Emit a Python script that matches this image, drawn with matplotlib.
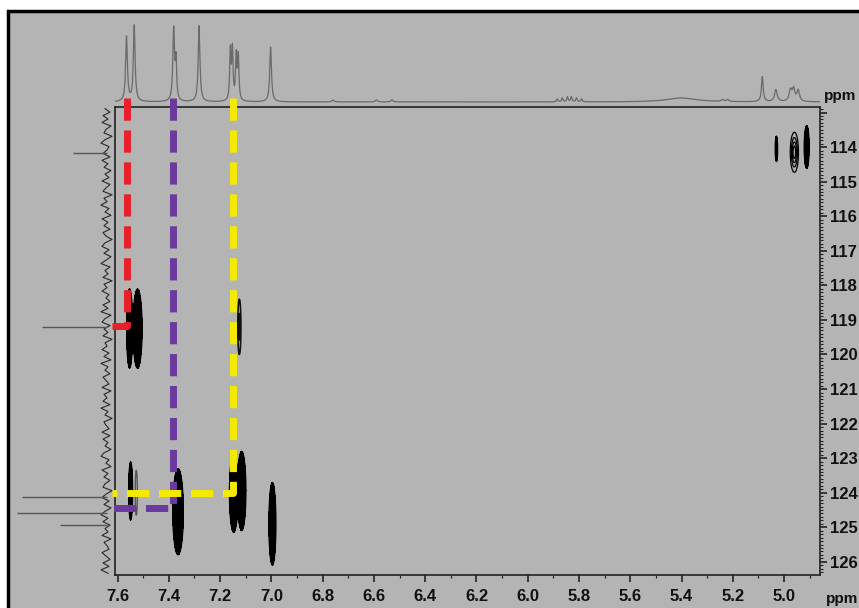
import numpy as np
import matplotlib.pyplot as plt
from matplotlib.patches import Rectangle
from matplotlib.ticker import MultipleLocator, FixedLocator, FuncFormatter

# 1H projection (top): ppm, height (px above baseline), half width (ppm)
h_ppm = [7.565, 7.535, 7.381, 7.372, 7.282, 7.160, 7.152, 7.137, 7.129, 7.003,
         6.76, 6.59, 6.53, 5.885, 5.865, 5.845, 5.83, 5.81, 5.79,
         5.40, 5.24, 5.22, 5.085, 5.032, 4.975, 4.963, 4.945]
h_int = [65, 76, 72, 38, 76, 50, 50, 44, 44, 55,
         2, 2, 2, 3, 4, 5, 5, 4, 3,
         4, 2, 2, 25, 12, 11, 12, 11]
h_wid = [0.004, 0.004, 0.004, 0.003, 0.004, 0.003, 0.003, 0.003, 0.003, 0.004,
         0.005, 0.005, 0.005, 0.003, 0.003, 0.003, 0.003, 0.003, 0.003,
         0.07, 0.005, 0.005, 0.004, 0.006, 0.006, 0.006, 0.006]

# 13C projection (left): ppm, length of spike (px), baseline noise (px)
c_ppm = [114.17, 119.2, 124.12, 124.6, 124.92]
c_int = [34, 65, 85, 90, 47]
c_noise = [2, -3, 4, -1, 5, -4, 1, 3, -5, 2, 6, -2, 0, 4, -3, 5, -1, 3, -4, 2,
           -2, 5, -3, 1, 4, -5, 3, 0, 6, -2, 2, -4, 5, -1, 3, -3, 4, 1, -5, 2,
           5, -2, 3, -4, 1, 6, -3, 2, -1, 4, -5, 3, 0, 5, -2, 1, -3, 4, -1, 6,
           -4, 2, 5, -3, 3, -1, 4, -5, 2, 0, 5, -2, 3, -4, 6, -1, 2, -3, 4, 1,
           -2, 5, -4, 3, 0, 4, -3, 6, -1, 2, -5, 3, 1, -2, 5, -3, 4, -1, 2, -4,
           3, 6, -2, 1, -4, 5, -1, 3, -3, 2, 4, -5, 1, 5, -2, 3, -4, 2, 6, -1,
           4, -3, 2, -1, 5, -4, 3, 0, -2, 5, 1, -3, 4, -2, 6, -1]

# cross peaks: 1H ppm, 13C ppm, half extent in 1H, half extent in 13C, style
pk_h = [7.553, 7.522, 7.125, 7.549, 7.527, 7.364, 7.147, 7.116, 6.996, 5.030, 4.960, 4.912]
pk_c = [119.25, 119.25, 119.2, 123.95, 124.0, 124.55, 124.0, 123.95, 124.9, 114.05, 114.15, 114.0]
pk_dh = [0.012, 0.018, 0.006, 0.008, 0.004, 0.021, 0.017, 0.017, 0.014, 0.005, 0.016, 0.010]
pk_dc = [1.15, 1.15, 0.8, 0.85, 0.65, 1.25, 1.15, 1.15, 1.2, 0.37, 0.58, 0.62]
pk_kind = ['solid', 'solid', 'line', 'solid', 'gray', 'solid', 'solid', 'solid',
           'solid', 'solid', 'ring', 'solid']

# correlation guides: 1H ppm, 13C ppm, colour
guide_h = [7.565, 7.385, 7.15]
guide_c = [119.17, 124.43, 124.0]
guide_col = ['#e8202a', '#6b3a9e', '#f4ea00']

W, H = 859, 608
XL = (7.61, 4.86)
YL = (126.38, 112.84)
bg = '#b4b4b4'

plt.rcParams['font.family'] = ['Liberation Sans Narrow', 'Liberation Sans', 'DejaVu Sans']
plt.rcParams['font.weight'] = 'bold'

fig = plt.figure(figsize=(W / 100, H / 100), dpi=100, facecolor='white')
fig.patches.append(Rectangle((8 / W, -0.05), 1.1, 1 - 11 / H + 0.05, transform=fig.transFigure,
                             facecolor=bg, edgecolor='black', lw=2.5, zorder=-10))

ax = fig.add_axes([115 / W, 1 - 575 / H, 705 / W, 468 / H])
ax.set_facecolor('none')
ax.set_xlim(*XL)
ax.set_ylim(*YL)

# 2D contours
gx = np.linspace(XL[1], XL[0], 3000)
gy = np.linspace(YL[1], YL[0], 700)
X, Y = np.meshgrid(gx, gy)
fields = {k: np.zeros_like(X) for k in ['solid', 'line', 'gray', 'ring']}
for h0, c0, dh, dc, k in zip(pk_h, pk_c, pk_dh, pk_dc, pk_kind):
    sx, sy = dh / 2.45, dc / 2.45
    fields[k] += np.exp(-0.5 * ((X - h0) / sx) ** 2 - 0.5 * ((Y - c0) / sy) ** 2)
ax.contourf(X, Y, fields['solid'], levels=[0.05, 100], colors='black', zorder=2)
ax.contour(X, Y, fields['solid'], levels=[0.05], colors='black', linewidths=0.8, zorder=2)
ax.contour(X, Y, fields['ring'], levels=[0.05, 0.2, 0.45, 0.75], colors='black',
           linewidths=0.9, zorder=2)
ax.contour(X, Y, fields['line'], levels=[0.05, 0.5], colors='#111111', linewidths=1.2, zorder=2)
ax.contour(X, Y, fields['gray'], levels=[0.05], colors='#555555', linewidths=1.0, zorder=2)

# dashed correlation guides
for h0, c0, col in zip(guide_h, guide_c, guide_col):
    ax.plot([h0, h0, XL[0] + 0.01], [112.58, c0, c0], color=col, lw=5,
            ls=(0, (3.2, 1.4)), clip_on=False, zorder=5, solid_capstyle='butt')

for s in ax.spines.values():
    s.set_color('#222222')
    s.set_linewidth(1.2)
ax.xaxis.set_major_locator(FixedLocator(np.round(np.arange(5.0, 7.61, 0.2), 1)))
ax.xaxis.set_minor_locator(MultipleLocator(0.1))
ax.xaxis.set_major_formatter(FuncFormatter(lambda v, p: '%.1f' % v))
ax.yaxis.set_major_locator(FixedLocator(np.arange(113, 127)))
ax.yaxis.set_minor_locator(MultipleLocator(0.1))
ax.yaxis.set_major_formatter(FuncFormatter(lambda v, p: '' if v < 113.5 else '%d' % v))
ax.yaxis.tick_right()
ax.tick_params(axis='both', which='major', direction='out', length=5, width=1.2,
               color='#222222', labelsize=12, labelcolor='#111111')
ax.tick_params(axis='x', which='major', pad=5)
ax.tick_params(axis='y', which='major', pad=2)
ax.tick_params(axis='both', which='minor', direction='out', length=2.5, width=0.8, color='#222222')

# top 1H trace
axt = fig.add_axes([115 / W, 1 - 107 / H, 705 / W, 87 / H])
axt.set_facecolor('none')
axt.set_xlim(*XL)
axt.set_ylim(-5, 82)
hx = np.linspace(XL[1], XL[0], 4000)
hy = np.zeros_like(hx)
for p, a, w in zip(h_ppm, h_int, h_wid):
    hy += a * w ** 2 / ((hx - p) ** 2 + w ** 2)
axt.plot(hx, hy, color='#6a6a6a', lw=0.9)
axt.axis('off')

# left 13C trace
axl = fig.add_axes([7 / W, 1 - 575 / H, 108 / W, 468 / H])
axl.set_facecolor('none')
axl.set_xlim(100, -8)
axl.set_ylim(*YL)
ny = np.linspace(YL[1] + 0.05, YL[0] - 0.05, len(c_noise))
axl.plot(c_noise, ny, color='#2a2a2a', lw=0.8)
axl.hlines(c_ppm, 0, c_int, color='#555555', lw=1.0)
axl.axis('off')

fig.text(824 / W, 1 - 96 / H, 'ppm', fontsize=11, fontweight='bold', color='#111111', va='center')
fig.text(826 / W, 1 - 599 / H, 'ppm', fontsize=11, fontweight='bold', color='#111111', va='center')

fig.savefig('out.png', dpi=100, facecolor='white')
